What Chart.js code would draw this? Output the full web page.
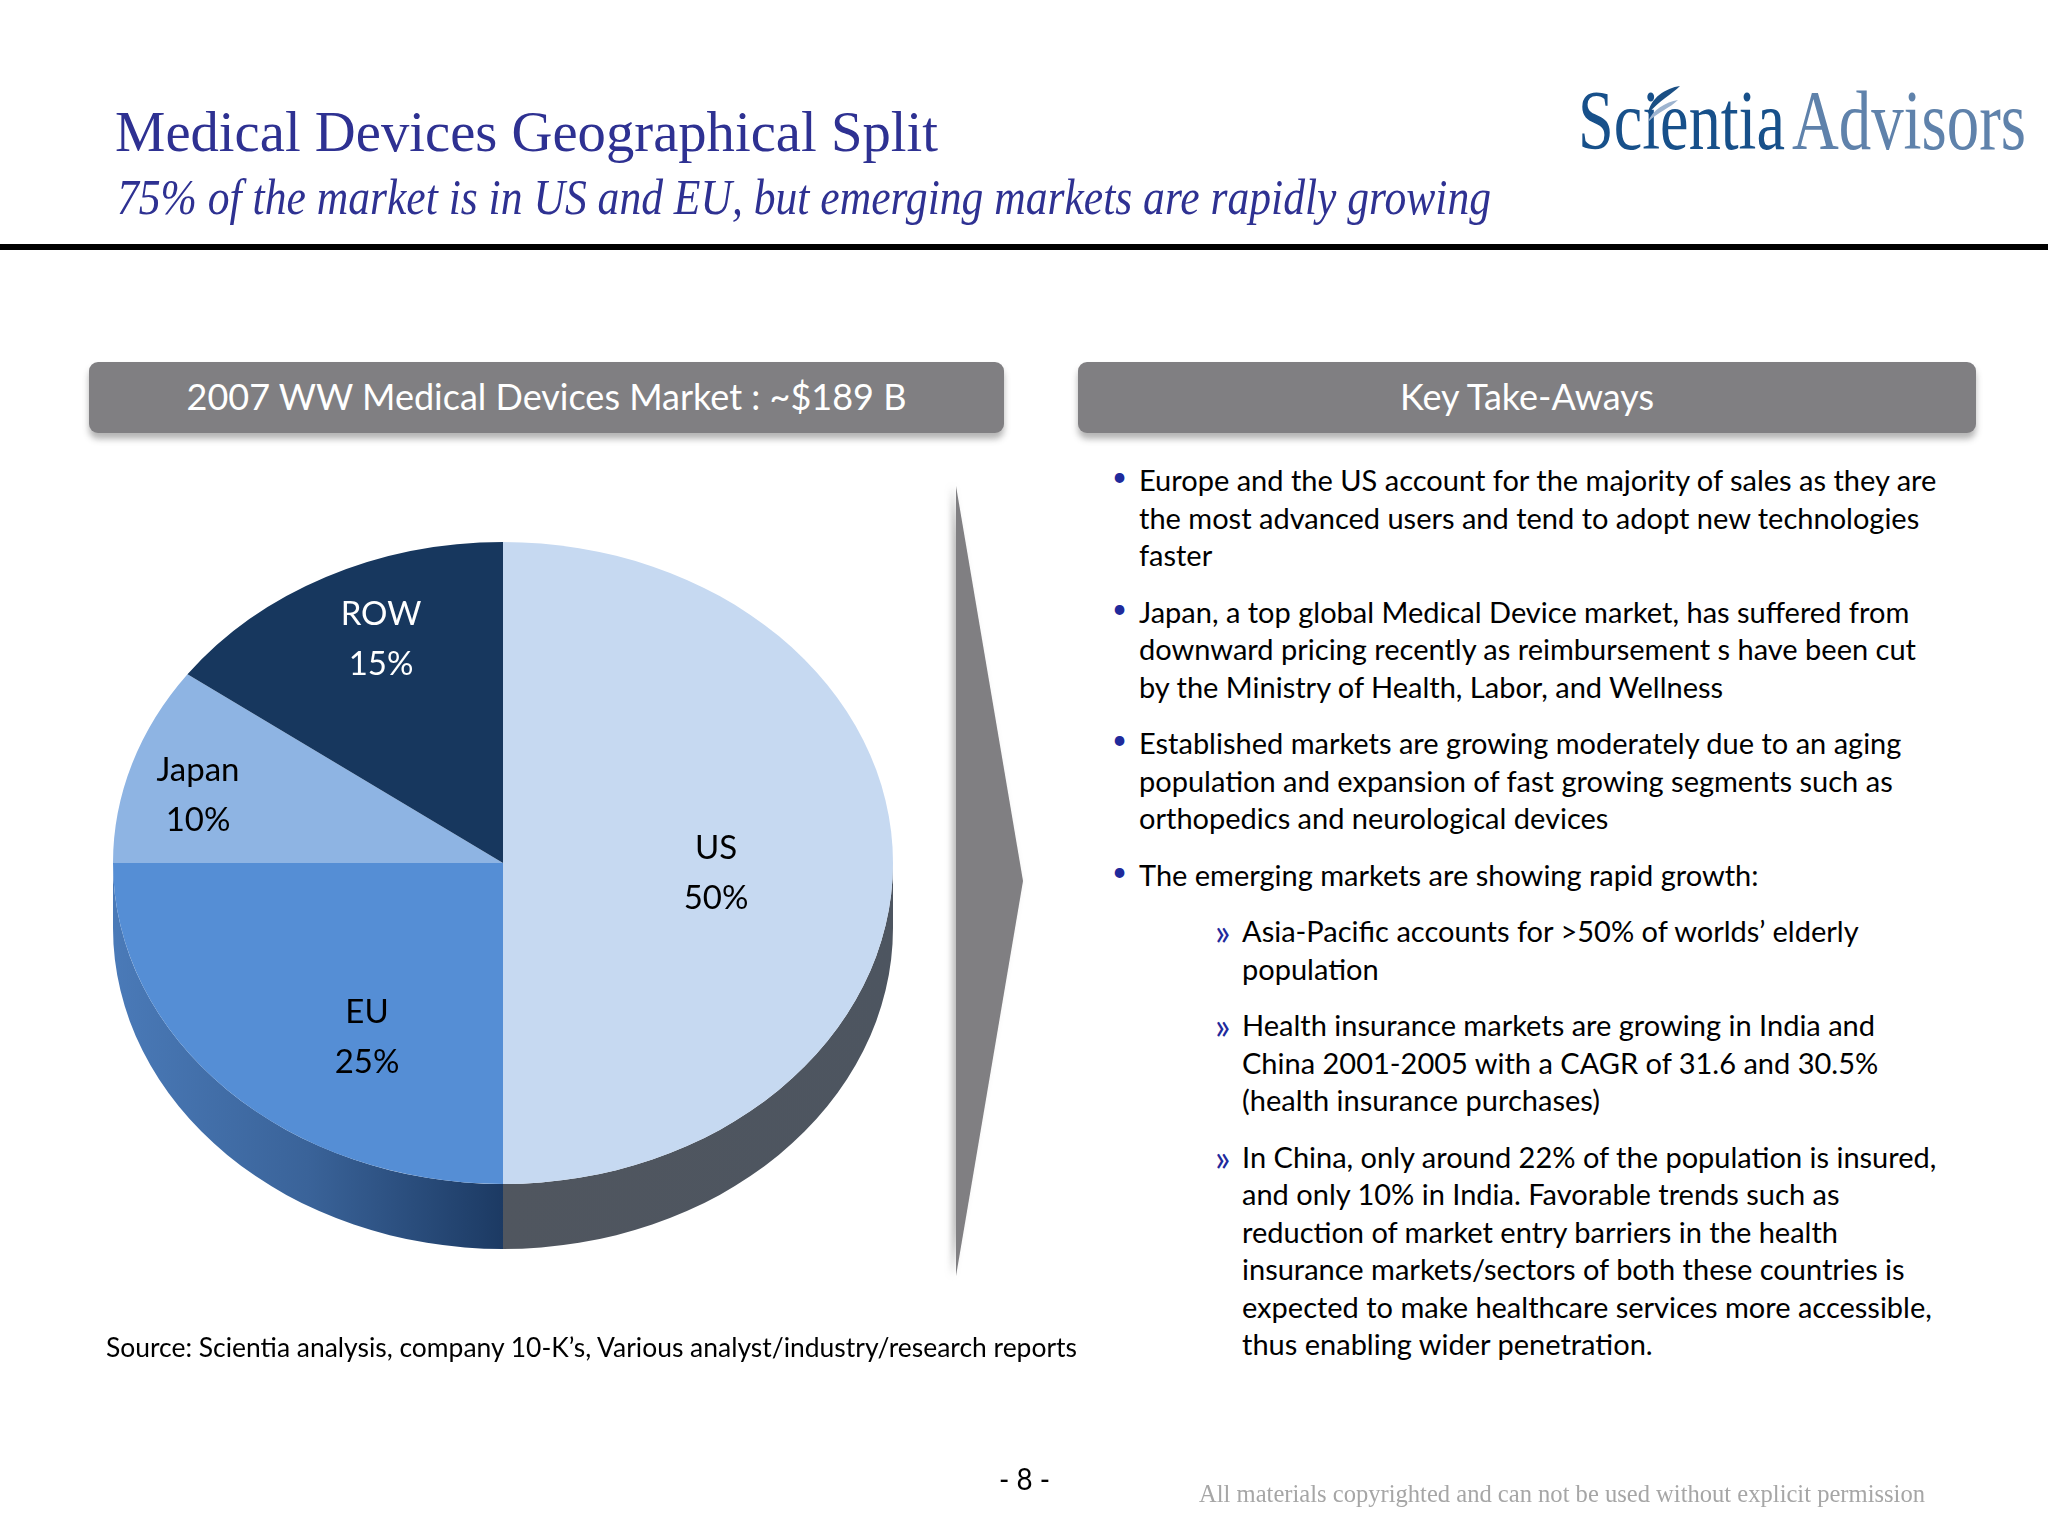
<!DOCTYPE html>
<html>
<head>
<meta charset="utf-8">
<title>Medical Devices Geographical Split</title>
<script src="https://cdn.jsdelivr.net/npm/chart.js@4"></script>
<style>
  html, body { margin: 0; padding: 0; background: #fff; }
  #page { position: relative; width: 2048px; height: 1536px; overflow: hidden; font-family: Lato, sans-serif; color: #000; }
  #page div, #page svg, #page canvas { position: absolute; }
  .line { white-space: nowrap; line-height: 1; transform-origin: left top; }
  .title { font-family: "Liberation Serif", serif; color: #2e3192; }
  .logo { font-family: "Liberation Serif", serif; font-size: 84px; }
  .band { background: #807f82; border-radius: 9px; box-shadow: 0 6px 6px rgba(90,90,90,0.45); color: #fff; font-size: 36px; line-height: 69px; text-align: center; }
</style>
</head>
<body>
<div id="page">
  <div class="line title" data-w="823" style="left:115px;top:103px;font-size:58px">Medical Devices Geographical Split</div>
  <div class="line title" data-w="1374" style="left:117px;top:172px;font-size:50px;font-style:italic">75% of the market is in US and EU, but emerging markets are rapidly growing</div>

  <div class="line logo" data-w="207" style="left:1578px;top:79px;color:#17508a">Scientia</div>
  <div class="line logo" data-w="234" style="left:1792px;top:79px;color:#5f82ab">Advisors</div>
  <svg style="left:1640px;top:80px" width="60" height="50" viewBox="0 0 60 50">
    <path d="M8 34 C10 18 26 8 40 6 C32 14 20 20 8 34 Z" fill="#1a4f84"/>
    <path d="M8 42 C12 30 26 22 38 20 C30 28 18 32 8 42 Z" fill="#9db4d0"/>
  </svg>

  <div style="left:0;top:244px;width:2048px;height:6px;background:#000"></div>

  <div class="band" style="left:89px;top:362px;width:915px;height:71px">2007 WW Medical Devices Market : ~$189 B</div>
  <div class="band" style="left:1078px;top:362px;width:898px;height:71px">Key Take-Aways</div>

  <canvas id="pie" width="800" height="800" style="left:103px;top:463px"></canvas>

  <svg style="left:930px;top:476px;filter:drop-shadow(-4px 0 3px rgba(120,120,120,0.5))" width="110" height="810">
    <polygon points="26,10 93,405 26,800" fill="#807f82"/>
  </svg>

  <div class="line" data-w="971" style="left:106px;top:1333px;font-size:27px">Source: Scientia analysis, company 10-K’s, Various analyst/industry/research reports</div>
  <div class="line" data-w="51" style="left:999px;top:1463px;font-size:30px">- 8 -</div>
  <div class="line" data-w="726" style="left:1199px;top:1481px;font-family:'Liberation Serif',serif;font-size:26px;color:#a6a6a6">All materials copyrighted and can not be used without explicit permission</div>
  <div id="takeaways"></div>
</div>

<script>
const categories = ["US", "EU", "Japan", "ROW"];
const shares = [50, 25, 10, 15];
const sliceColors = ["#c6d9f1", "#558ed5", "#8eb4e3", "#17375e"];
const labelColors = ["#000", "#000", "#000", "#fff"];
// where each label sits, relative to the pie centre
const labelOffsets = [[213, 10], [-136, 174], [-305, -68], [-122, -224]];

const squash = 0.823; // pie is tilted, so the circle is flattened
const depth = 65;

const takeaways = [
  ["b", "Europe and the US account for the majority of sales as they are", "the most advanced users and tend to adopt new technologies", "faster"],
  ["b", "Japan, a top global Medical Device market, has suffered from", "downward pricing recently as reimbursement s have been cut", "by the Ministry of Health, Labor, and Wellness"],
  ["b", "Established markets are growing moderately due to an aging", "population and expansion of fast growing segments such as", "orthopedics and neurological devices"],
  ["b", "The emerging markets are showing rapid growth:"],
  ["s", "Asia-Pacific accounts for >50% of worlds’ elderly", "population"],
  ["s", "Health insurance markets are growing in India and", "China 2001-2005 with a CAGR of 31.6 and 30.5%", "(health insurance purchases)"],
  ["s", "In China, only around 22% of the population is insured,", "and only 10% in India. Favorable trends such as", "reduction of market entry barriers in the health", "insurance markets/sectors of both these countries is", "expected to make healthcare services more accessible,", "thus enabling wider penetration."]
];

function addLine(parent, text, x, y, size, color) {
  const el = document.createElement("div");
  el.className = "line";
  el.textContent = text;
  el.style.left = x + "px";
  el.style.top = y + "px";
  el.style.fontSize = size + "px";
  if (color) el.style.color = color;
  parent.appendChild(el);
  return el;
}

// bullets and wrapped lines of the right hand column
const box = document.getElementById("takeaways");
let y = 465;
takeaways.forEach(function (para) {
  if (para[0] === "s") {
    addLine(box, "»", 1215, y - 3, 36, "#1f2a9c");
  } else {
    addLine(box, "•", 1112, y - 2, 26, "#1f2a9c");
  }
  para.slice(1).forEach(function (text) {
    addLine(box, text, para[0] === "s" ? 1242 : 1139, y, 29);
    y += 37.5;
  });
  y += 19;
});

// narrow the lines that have a known width in the reference
document.querySelectorAll("[data-w]").forEach(function (el) {
  const natural = el.getBoundingClientRect().width;
  el.style.transform = "scaleX(" + parseFloat(el.dataset.w) / natural + ")";
});

function sideGradient(ctx, i, arc) {
  const g = ctx.createLinearGradient(arc.x - arc.outerRadius, 0, arc.x + arc.outerRadius, 0);
  if (i === 1) {
    g.addColorStop(0, "#4a7ab8");
    g.addColorStop(0.25, "#3a6399");
    g.addColorStop(0.5, "#1c3a63");
    return g;
  }
  g.addColorStop(0.5, "#50565f");
  g.addColorStop(1, "#4d5560");
  return g;
}

const tiltPlugin = {
  id: "tilt",
  beforeDatasetsDraw(chart) {
    const ctx = chart.ctx;
    const arcs = chart.getDatasetMeta(0).data;
    // side wall, only the part of each slice on the front half
    arcs.forEach(function (arc, i) {
      const a0 = Math.max(arc.startAngle, 0);
      const a1 = Math.min(arc.endAngle, Math.PI);
      if (a1 <= a0) return;
      const ry = arc.outerRadius * squash;
      ctx.beginPath();
      ctx.ellipse(arc.x, arc.y, arc.outerRadius, ry, 0, a0, a1);
      ctx.ellipse(arc.x, arc.y + depth, arc.outerRadius, ry, 0, a1, a0, true);
      ctx.closePath();
      ctx.fillStyle = sideGradient(ctx, i, arc);
      ctx.fill();
    });
    const c = arcs[0];
    ctx.save();
    ctx.translate(c.x, c.y);
    ctx.scale(1, squash);
    ctx.translate(-c.x, -c.y);
  },
  afterDatasetsDraw(chart) {
    const ctx = chart.ctx;
    ctx.restore();
    const c = chart.getDatasetMeta(0).data[0];
    ctx.font = "33px Lato";
    ctx.textAlign = "center";
    ctx.textBaseline = "middle";
    categories.forEach(function (name, i) {
      const lx = c.x + labelOffsets[i][0];
      const ly = c.y + labelOffsets[i][1];
      ctx.fillStyle = labelColors[i];
      ctx.fillText(name, lx, ly - 25);
      ctx.fillText(shares[i] + "%", lx, ly + 25);
    });
  }
};

new Chart(document.getElementById("pie").getContext("2d"), {
  type: "pie",
  data: {
    labels: categories,
    datasets: [{ data: shares, backgroundColor: sliceColors, borderWidth: 0, clip: false }]
  },
  options: {
    responsive: false,
    animation: false,
    layout: { padding: 10 },
    plugins: { legend: { display: false }, tooltip: { enabled: false } }
  },
  plugins: [tiltPlugin]
});
</script>
</body>
</html>
